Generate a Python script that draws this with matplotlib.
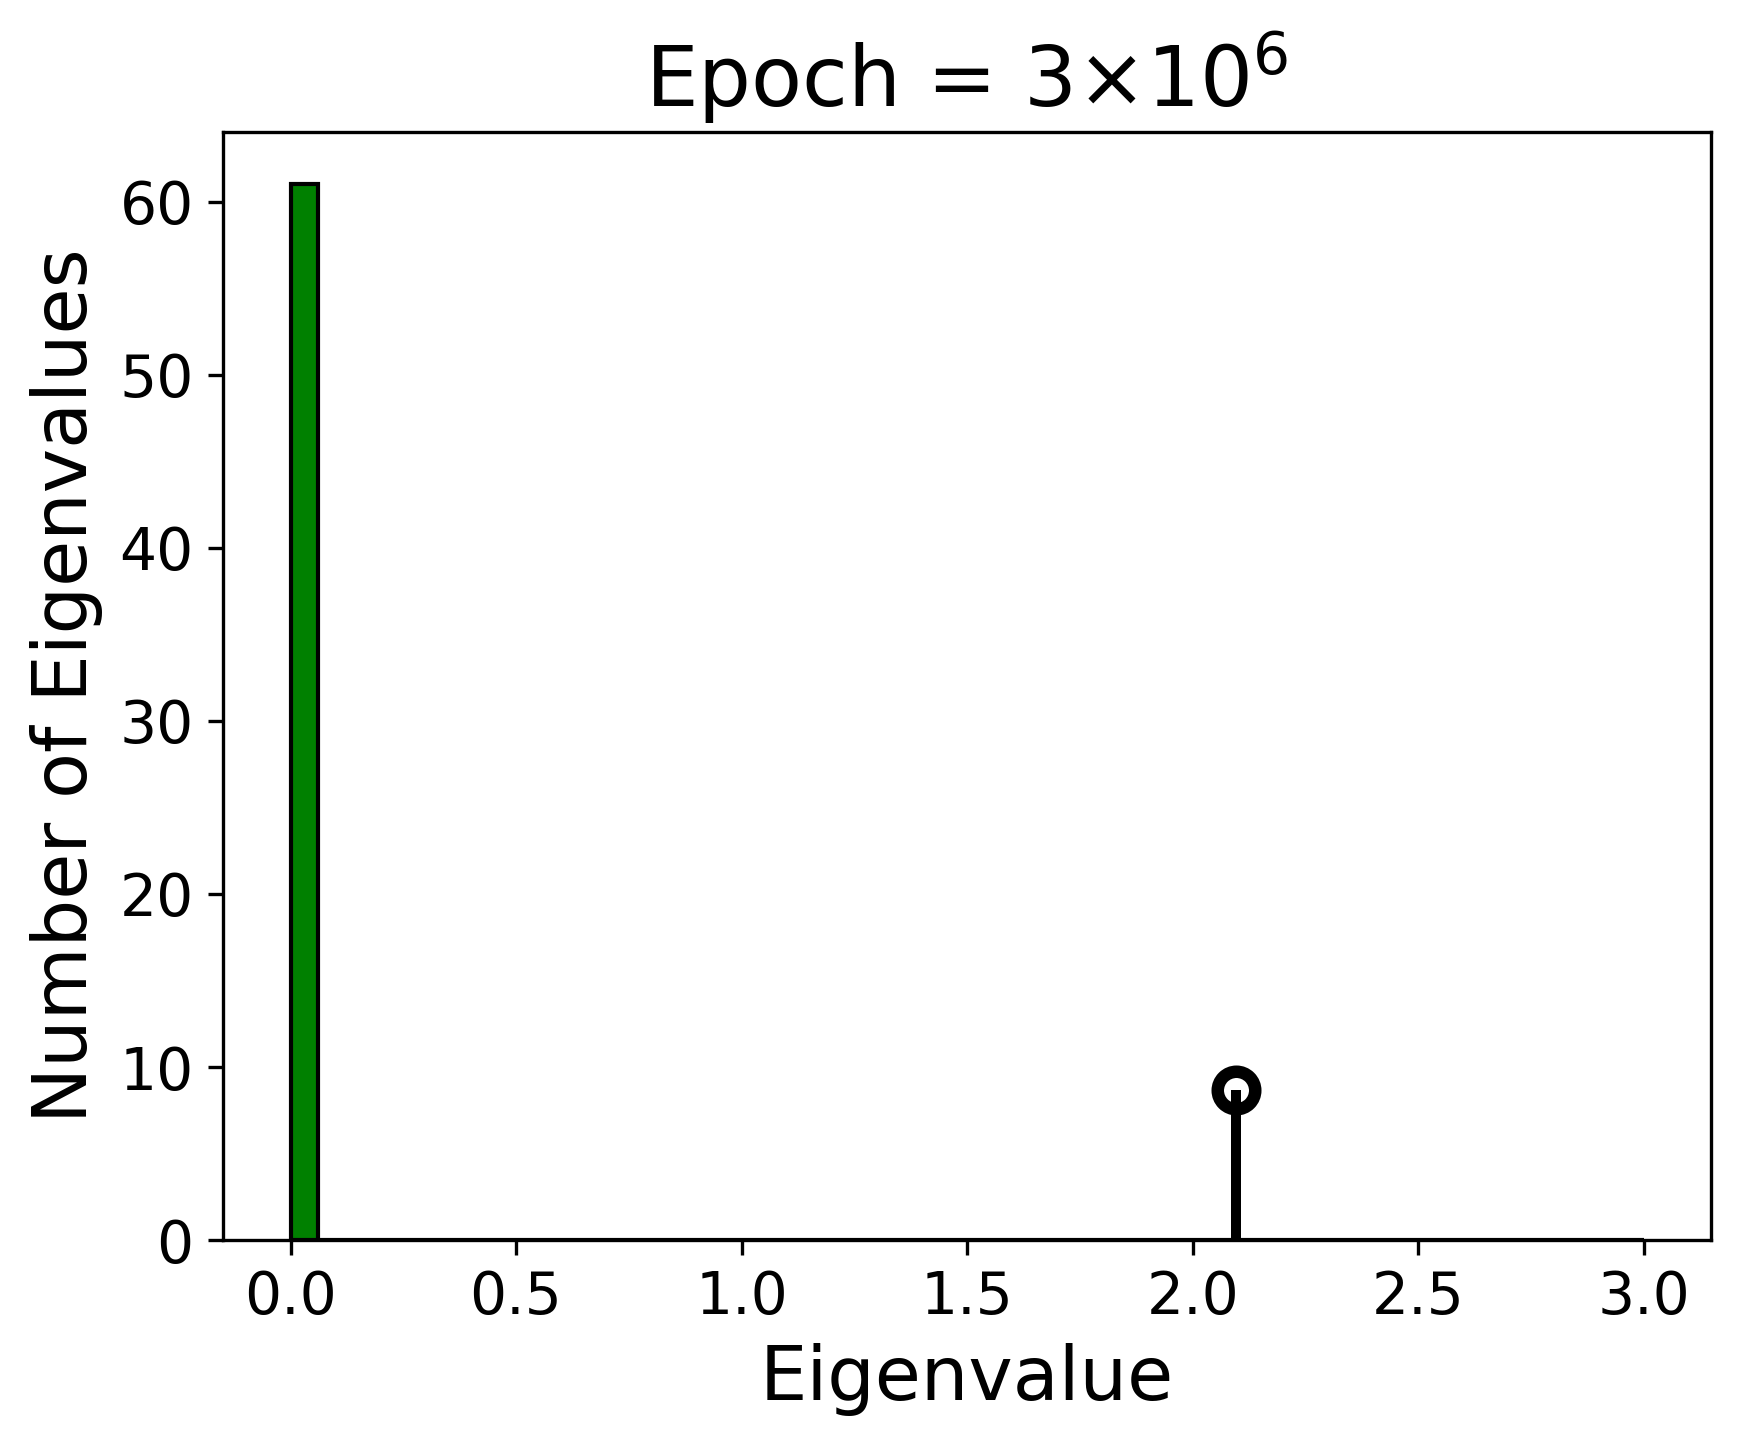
import numpy as np
import matplotlib.pyplot as plt

# histogram of eigenvalues (50 bins over [0, 3])
bin_edges = np.linspace(0, 3, 51)
counts = [61] + [0] * 49

# outlier eigenvalue marked with a stem
outlier_x = [2.095]
outlier_y = [8.7]

fig = plt.figure(figsize=(1741 / 300, 1447 / 300), dpi=300)
ax = fig.add_axes([0.128, 0.143, 0.855, 0.766])

ax.hist(bin_edges[:-1], bins=bin_edges, weights=counts, color="green", edgecolor="black", linewidth=1.0)

markerline, stemlines, baseline = ax.stem(outlier_x, outlier_y, linefmt="k-", markerfmt="ko", basefmt=" ")
markerline.set_markerfacecolor("none")
markerline.set_markersize(9)
markerline.set_markeredgewidth(3)
stemlines.set_linewidth(2.4)

ax.set_title(r"Epoch = 3$\times$10$^6$", fontsize=20)
ax.set_xlabel("Eigenvalue", fontsize=18)
ax.set_ylabel("Number of Eigenvalues", fontsize=18)
ax.tick_params(labelsize=14)
ax.set_ylim(0, 61 * 1.05)

plt.savefig("out.png", dpi=300)
